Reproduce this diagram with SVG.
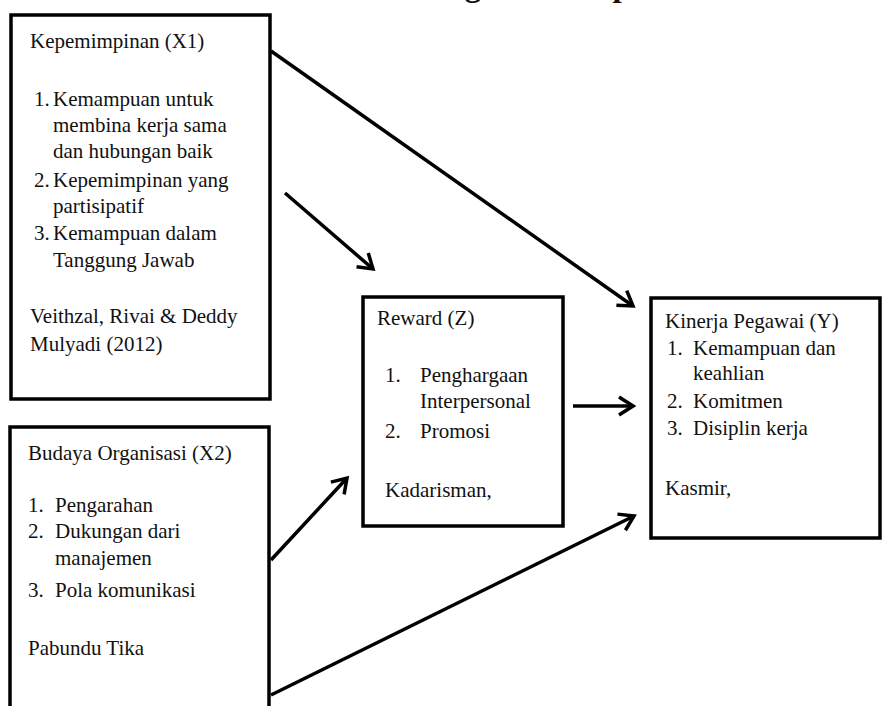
<svg xmlns="http://www.w3.org/2000/svg" width="883" height="706" viewBox="0 0 883 706">
<defs>
<style>
g text, text { font-family: "Times New Roman", "Liberation Serif", Times, serif !important; }
</style>
<marker id="ah" viewBox="-17 -11 20 22" refX="0" refY="0" markerWidth="20" markerHeight="22" markerUnits="userSpaceOnUse" orient="auto">
<path d="M-14,-9 L0,0 L-14,9" fill="none" stroke="#000" stroke-width="3.5" stroke-linejoin="miter"/>
</marker>
</defs>
<rect width="883" height="706" fill="#fff"/>
<text x="375" y="-4" font-family="Times New Roman" font-weight="bold" font-size="33" fill="#111">Kerangka Konseptual</text>

<g id="x1">
<rect x="11" y="15" width="259" height="384" fill="#fff" stroke="#000" stroke-width="3.5"/>
<text font-family="Times New Roman" font-size="21" fill="#111" style="font-family:'Times New Roman','Liberation Serif',serif !important">
<tspan x="30" y="48">Kepemimpinan (X1)</tspan>
<tspan x="34" y="106">1.</tspan><tspan x="53" y="106">Kemampuan untuk</tspan>
<tspan x="53" y="132">membina kerja sama</tspan>
<tspan x="53" y="158">dan hubungan baik</tspan>
<tspan x="34" y="187">2.</tspan><tspan x="53" y="187">Kepemimpinan yang</tspan>
<tspan x="53" y="213">partisipatif</tspan>
<tspan x="34" y="240">3.</tspan><tspan x="53" y="240">Kemampuan dalam</tspan>
<tspan x="53" y="267">Tanggung Jawab</tspan>
<tspan x="30" y="323">Veithzal, Rivai &amp; Deddy</tspan>
<tspan x="30" y="351">Mulyadi (2012)</tspan>
</text>
</g>

<g id="x2">
<rect x="10" y="427" width="259" height="300" fill="#fff" stroke="#000" stroke-width="3.5"/>
<text font-family="Times New Roman" font-size="21" fill="#111" style="font-family:'Times New Roman','Liberation Serif',serif !important">
<tspan x="28" y="460">Budaya Organisasi (X2)</tspan>
<tspan x="28" y="512">1.</tspan><tspan x="55" y="512">Pengarahan</tspan>
<tspan x="28" y="538">2.</tspan><tspan x="55" y="538">Dukungan dari</tspan>
<tspan x="55" y="565">manajemen</tspan>
<tspan x="28" y="597">3.</tspan><tspan x="55" y="597">Pola komunikasi</tspan>
<tspan x="28" y="655">Pabundu Tika</tspan>
</text>
</g>

<g id="z">
<rect x="363" y="297" width="200" height="229" fill="#fff" stroke="#000" stroke-width="3.5"/>
<text font-family="Times New Roman" font-size="21" fill="#111" style="font-family:'Times New Roman','Liberation Serif',serif !important">
<tspan x="377" y="325">Reward  (Z)</tspan>
<tspan x="385" y="382">1.</tspan><tspan x="420" y="382">Penghargaan</tspan>
<tspan x="420" y="408">Interpersonal</tspan>
<tspan x="385" y="438">2.</tspan><tspan x="420" y="438">Promosi</tspan>
<tspan x="385" y="497">Kadarisman,</tspan>
</text>
</g>

<g id="y">
<rect x="651" y="298" width="229" height="240" fill="#fff" stroke="#000" stroke-width="3.5"/>
<text font-family="Times New Roman" font-size="21" fill="#111" style="font-family:'Times New Roman','Liberation Serif',serif !important">
<tspan x="665" y="328">Kinerja Pegawai (Y)</tspan>
<tspan x="667" y="355">1.</tspan><tspan x="693" y="355">Kemampuan dan</tspan>
<tspan x="693" y="380">keahlian</tspan>
<tspan x="667" y="408">2.</tspan><tspan x="693" y="408">Komitmen</tspan>
<tspan x="667" y="435">3.</tspan><tspan x="693" y="435">Disiplin kerja</tspan>
<tspan x="665" y="495">Kasmir,</tspan>
</text>
</g>

<g id="connectors" stroke="#000" stroke-width="3.5">
<line x1="271" y1="51" x2="633" y2="306" marker-end="url(#ah)"/>
<line x1="285" y1="193" x2="373" y2="269" marker-end="url(#ah)"/>
<line x1="573" y1="406" x2="633" y2="406" marker-end="url(#ah)"/>
<line x1="271" y1="560" x2="347" y2="478" marker-end="url(#ah)"/>
<line x1="271" y1="695" x2="634" y2="516" marker-end="url(#ah)"/>
</g>
</svg>
